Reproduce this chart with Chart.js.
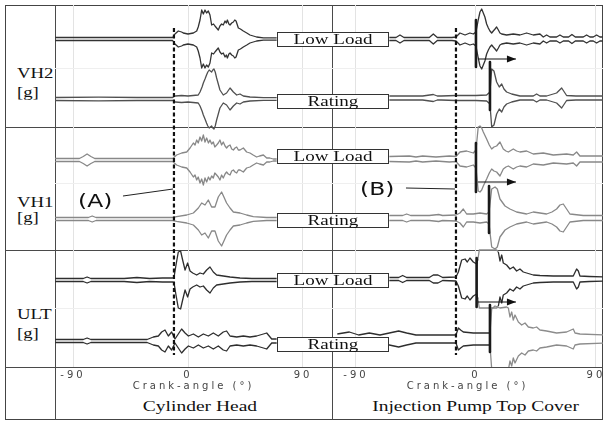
<!DOCTYPE html>
<html>
<head>
<meta charset="utf-8">
<script src="https://cdn.jsdelivr.net/npm/chart.js@4.4.1/dist/chart.umd.min.js"></script>
<style>
  body { margin: 0; background: #fff; }
  #fig { position: relative; width: 606px; height: 423px; overflow: hidden;
         font-family: "Liberation Serif", "Times New Roman", serif; color: #111; }
  .frame { position: absolute; left: 5px; top: 5px; width: 598px; height: 415px;
           border: 1.5px solid #444; box-sizing: border-box; }
  .rule { position: absolute; background: #4a4a4a; }
  .panel { position: absolute; top: 5px; }
  .tag { position: absolute; left: 277px; width: 112px; height: 15px; box-sizing: border-box;
         border: 1.5px solid #333; background: #fff; text-align: center;
         font-size: 15px; line-height: 12px; white-space: nowrap; }
  .tag span { display: inline-block; transform: scaleX(1.27); }
  .lbl { position: absolute; left: 17px; font-size: 15px; line-height: 15px; white-space: nowrap;
         transform: scaleX(1.25); transform-origin: left center; }
  .note { position: absolute; font-family: "DejaVu Sans", sans-serif; font-size: 18px; line-height: 20px;
          transform: scaleX(1.3); transform-origin: left center; }
  .title { position: absolute; top: 399px; font-size: 15px; line-height: 15px; text-align: center; white-space: nowrap; }
  .title span { display: inline-block; transform: scaleX(1.3); }
</style>
</head>
<body>
<div id="fig">
  <div class="frame"></div>
  <div class="rule" style="left:54.5px;top:5px;width:1.5px;height:415px"></div>
  <div class="rule" style="left:331.5px;top:5px;width:1.5px;height:415px"></div>
  <div class="rule" style="left:5px;top:126.5px;width:598px;height:1.5px"></div>
  <div class="rule" style="left:5px;top:249.5px;width:598px;height:1.5px"></div>
  <div class="rule" style="left:5px;top:366.5px;width:598px;height:1.5px"></div>

  <canvas id="head" class="panel" style="left:55px" width="277" height="392"></canvas>
  <canvas id="pump" class="panel" style="left:332px" width="271" height="392"></canvas>

  <div class="tag" style="top:32px"><span>Low Load</span></div>
  <div class="tag" style="top:94px"><span>Rating</span></div>
  <div class="tag" style="top:149px"><span>Low Load</span></div>
  <div class="tag" style="top:213px"><span>Rating</span></div>
  <div class="tag" style="top:273px"><span>Low Load</span></div>
  <div class="tag" style="top:337px"><span>Rating</span></div>

  <div class="lbl" style="top:65.7px">VH2</div>
  <div class="lbl" style="top:84.7px">[g]</div>
  <div class="lbl" style="top:194.5px">VH1</div>
  <div class="lbl" style="top:209.5px">[g]</div>
  <div class="lbl" style="top:306.5px">ULT</div>
  <div class="lbl" style="top:325.5px">[g]</div>

  <div class="note" style="left:78px;top:190.5px">(A)</div>
  <div class="note" style="left:360px;top:178.5px">(B)</div>

  <div class="title" style="left:100px;width:200px"><span>Cylinder Head</span></div>
  <div class="title" style="left:356px;width:240px"><span>Injection Pump Top Cover</span></div>
</div>

<script>
// crank-angle axis
const angleTicks = [-90, 0, 90];
const headRange = [-104.1, 112.7];
const pumpRange = [-108, 95.3];

// ---- Cylinder Head: envelope amplitude vs crank angle ----
const headVH2LowAng = [-104, -60, -12, -10.2, -7.6, -5, -3.7, 0, 4.2, 6.8, 8, 9.4, 10.7, 12, 13.3, 14.5, 15.9, 17.2, 18.5, 20, 21.1, 22.4, 23.7, 25, 26.3, 27.6, 29, 30, 30.8, 32, 32.9, 34.2, 35.5, 36.6, 37.6, 39.4, 41, 43.3, 46, 48.5, 53.7, 59, 69.4];
const headVH2LowAmp = [1.5, 1.5, 1.5, 5, 8, 7, 6, 5, 6, 8, 12, 19, 29, 25, 29, 26, 28, 24, 14, 15, 13, 11, 9, 13, 15, 14, 18, 16, 19, 15, 14, 16, 17, 19, 18, 11, 10, 8, 6, 4, 2, 1.2, 1.2];

const headVH2RatingAng = [-104, -70, -40, -12, -10, -5, 0, 4, 8, 9.4, 11, 12, 13.3, 14.5, 15.5, 16.6, 17.5, 18.5, 19.4, 20.3, 21.3, 22.4, 23.7, 25, 27.6, 30.2, 32.9, 35.5, 38.1, 40.7, 43.3, 48.5, 59, 69.4];
const headVH2RatingAmp = [1.5, 1.8, 1.5, 1.5, 3, 3.5, 3, 3.5, 4, 7, 12, 16, 20, 24, 27, 29, 28, 27, 29, 30, 27, 21, 15, 9, 4, 6, 11, 7, 4, 5, 3, 2, 1.3, 1.3];

const headVH1LowAng = [-104, -85, -82, -79, -76, -73, -40, -12, -8.9, -4.9, -1, 1.6, 4.2, 5.5, 6.8, 8, 9.4, 10.7, 12, 13.3, 14.6, 16, 17.2, 18.5, 19.8, 21, 22.4, 23.7, 25, 26.3, 27.6, 29, 30.2, 31.5, 32.9, 34.2, 35.5, 36.8, 38.1, 39.4, 40.7, 42, 43.3, 45.9, 48.5, 51, 53.7, 56, 59, 61.6, 64, 66.7, 69.4];
const headVH1LowAmp = [1.5, 1.5, 3.5, 6, 3.5, 1.5, 1.5, 1.5, 5, 7, 8, 12, 17, 15, 20, 17, 23, 19, 25, 18, 22, 17, 20, 16, 18, 13, 15, 17, 20, 15, 18, 14, 12, 14, 15, 11, 10, 12, 13, 10, 10, 11, 12, 8, 7, 5, 3, 4, 5, 2, 2, 1, 1];

const headVH1RatingAng = [-104, -78, -75, -72, -40, -12, -8.9, -1, 4.2, 8.1, 10.7, 13.3, 15.9, 18.5, 21.1, 23.7, 26.3, 28.1, 30.2, 32.9, 35.5, 40.7, 45.9, 51.1, 61.6, 69.4];
const headVH1RatingAmp = [1.5, 1.5, 3, 1.5, 1.5, 1.5, 2.3, 4, 6, 11, 16, 14, 19, 12, 12, 22, 27, 22, 16, 11, 7, 6, 4, 2.3, 1.5, 1.5];

const headULTLowAng = [-104, -82, -79, -76, -50, -40, -30, -20, -12, -10.9, -9.4, -7.6, -5.8, -4.2, -2.3, -0.3, 1.6, 3.7, 6.8, 9.4, 12, 14.6, 17.2, 19.8, 22.4, 27.6, 32.9, 40.7, 50, 69.4];
const headULTLowAmp = [1.5, 1.5, 3, 1.5, 1.5, 2.5, 1.5, 2, 2, 3, 15, 28, 29, 20, 10, 17, 9, 7, 5, 7, 6, 10, 13, 8, 5, 4, 3, 2, 1.5, 1.5];

const headULTRatingAng = [-104, -82, -79, -76, -32, -27.1, -23.2, -20.6, -18, -15.4, -12.8, -10.2, -7.6, -5, -2.3, 0.3, 4.2, 8.1, 12, 15.9, 19.8, 23.7, 27.6, 30.2, 32.9, 38.1, 43.3, 48.5, 53.7, 59, 61.6, 65.5, 69.4];
const headULTRatingAmp = [1.5, 1.5, 3, 1.5, 1.5, 4, 5, 9, 11, 5, 9, 2, 7, 12, 8, 5, 7, 4, 7, 5, 8, 5, 9, 10, 5, 4, 5, 4, 5, 7, 8, 2, 2];

// ---- Injection Pump Top Cover ----
const pumpVH2LowAng = [-65, -60, -57, -54, -35, -32, -29, -18, -15, -12, -8.2, -4.5, -2, 0, 1.7, 3, 4.3, 5.5, 6.7, 8, 9.3, 10.5, 11.8, 13, 14.3, 15.5, 16.8, 18, 19.3, 23, 28, 33, 38, 43, 48, 50.5, 53, 55.5, 60.5, 63, 65.5, 69.5, 72, 74.5, 80.5, 83, 85.5, 88, 90.5, 93, 96];
const pumpVH2LowAmp = [1.5, 1.5, 4, 1.5, 1.5, 5, 1.5, 1.5, 2, 6, 4, 6, 5, 7, 19, 27, 30, 26, 22, 15, 11, 8, 6, 8, 10, 12, 9, 6, 5, 4, 5, 4, 6, 4, 5, 2, 4, 2, 2, 4, 2, 2, 4.5, 2, 2, 4, 2, 2, 4, 2, 2];

const pumpVH2RatingAng = [-65, -40, -32, -29, -26, -15, 0, 8, 10.5, 11.8, 13.5, 15.5, 17.5, 19.3, 21, 23, 26.8, 33, 43, 45.5, 48, 53, 60.5, 64.3, 68, 75, 80.5, 96];
const pumpVH2RatingAmp = [2, 2, 3.5, 2, 2, 2.5, 2.5, 3, 6, 29, 27, 16, 11, 14, 9, 6, 4, 2, 2, 4, 2, 2, 5, 10, 2.5, 2, 2, 2];

const pumpVH1LowAng = [-65, -50, -45, -40, -30, -20, -15, -12, -7, -2, 0, 1.7, 3, 4.3, 5.5, 8, 10, 11.8, 13.5, 15.5, 18, 20.5, 22.5, 24.3, 28, 30.5, 33, 38, 43, 50.5, 58, 68, 73, 75.5, 78, 83, 96];
const pumpVH1LowAmp = [2.5, 3, 2, 3, 2, 3, 2.5, 7, 8, 6, 9, 32, 33, 31, 27, 20, 14, 10, 12, 13, 17, 10, 8, 7, 10, 8, 7, 8, 5, 6, 4, 5, 4, 7, 3, 3, 3];

const pumpVH1RatingAng = [-65, -55, -52, -49, -35, -28, -25, -15, -12, -9.5, -7, -2, 3, 8, 9.8, 11.8, 14.3, 16, 18, 21.8, 25.5, 30.5, 38, 43, 53, 57, 60.5, 63, 65.5, 68, 70.5, 80.5, 96];
const pumpVH1RatingAmp = [2.5, 2.5, 4, 2.5, 2.5, 3.5, 2.5, 3, 5, 9, 4, 4, 5, 4, 6, 29, 31, 29, 19, 12, 9, 6, 4, 6, 4, 6, 9, 13, 14, 9, 4, 2.5, 2.5];

const pumpULTLowAng = [-65, -58, -55, -52, -35, -32, -28.5, -25, -15, -13.2, -10.7, -8.2, -6.5, -4.5, -2, 0.5, 1.5, 2.5, 15.5, 16.8, 18, 19.3, 20.5, 23, 25.5, 28, 30.5, 33, 35.5, 38, 43, 48, 58, 73, 75.5, 76.8, 78, 85, 96];
const pumpULTLowAmp = [1.5, 1.5, 3.5, 1.5, 1.5, 4, 4, 1.5, 2, 7, 19, 20, 17, 21, 17, 15, 20, 29, 29, 27, 18, 24, 16, 14, 10, 12, 8, 10, 7, 6, 4, 3.5, 3, 3, 10, 8, 3, 2.5, 2];

const pumpULTRatingAng = [-104, -95, -88, -80, -72, -65, -58, -52, -45, -35, -25, -15, -13.2, -11.5, -9.5, -2, 8, 10.5, 11.8, 14.3, 18, 23, 24.3, 25.5, 26.8, 28, 29.3, 31.8, 34.3, 36.8, 39.3, 43, 45.5, 48, 53, 60.5, 68, 73, 74.3, 78, 96];
const pumpULTRatingAmp = [5, 7, 4, 6, 4, 6, 8, 6, 4, 4, 4, 4, 11, 9, 7, 6, 6, 6, 30, 33, 31, 32, 31, 22, 27, 19, 24, 17, 14, 16, 12, 11, 12, 9, 8, 6, 7, 10, 6, 5, 4];

// ---- annotations (crank angles) ----
const headDashAngle = -11;                       // (A)
const pumpDashAngle = -15;                       // (B)
const pumpBarAngles = [0, 10.5, 0, 9.8, 0.5, 10.5];
const arrowFrom = 1.5, arrowTo = 30;
const headLeader = [-50.9, -11.7];
const pumpLeader = [-52.5, -15.7];

// ---- layout (vertical offsets, px from top of plot) ----
const headBase = [34, 94, 155, 214, 275, 336];
const pumpBase = [34, 93, 154, 213, 274, 334];
const barSpan = [[15, 62], [57, 105], [138, 187], [181, 228], [253, 302], [300, 347]];
const arrowY = [54, 177, 297];
const dashSpan = [23, 350];
const faintRows = [63, 178, 303];
const rowColor = ['#333', '#505050', '#888', '#888', '#2e2e2e', '#2e2e2e'];

Chart.defaults.elements.point.radius = 0;
Chart.defaults.elements.line.tension = 0;
Chart.defaults.elements.line.borderJoinStyle = 'round';

// arrow heads at the end of flagged datasets
const arrowHeads = {
  id: 'arrowHeads',
  afterDatasetsDraw(chart) {
    const ctx = chart.ctx;
    chart.data.datasets.forEach((ds, i) => {
      if (!ds.arrow) return;
      const pts = chart.getDatasetMeta(i).data;
      const tip = pts[pts.length - 1];
      ctx.save();
      ctx.fillStyle = '#111';
      ctx.beginPath();
      ctx.moveTo(tip.x, tip.y);
      ctx.lineTo(tip.x - 9, tip.y - 3.5);
      ctx.lineTo(tip.x - 9, tip.y + 3.5);
      ctx.closePath();
      ctx.fill();
      ctx.restore();
    });
  }
};

// stretched axis lettering like the scanned figure
const wideText = {
  id: 'wideText',
  beforeDraw(chart) { chart.ctx.letterSpacing = '3px'; },
  afterDraw(chart) { chart.ctx.letterSpacing = '0px'; }
};

function line(points, color, width, extra) {
  return Object.assign({ data: points, borderColor: color, borderWidth: width, order: 0 }, extra || {});
}

function buildPanel(id, range, traces, marks) {
  const datasets = [];
  traces.forEach(t => {
    [-1, 1].forEach(sign => {
      const ds = {
        data: t.ang.map((a, k) => ({ x: a, y: t.base + sign * t.amp[k] })),
        borderColor: t.color,
        borderWidth: 1.3,
        order: 1
      };
      if (t.grey) {
        ds.segment = {
          borderColor: c => (c.p0.parsed.x >= t.grey[0] && c.p1.parsed.x <= t.grey[1]) ? '#8c8c8c' : undefined
        };
      }
      datasets.push(ds);
    });
  });
  marks.forEach(m => datasets.push(m));

  return new Chart(document.getElementById(id), {
    type: 'line',
    data: { datasets },
    options: {
      responsive: false,
      animation: false,
      layout: { padding: 0 },
      plugins: { legend: { display: false }, tooltip: { enabled: false } },
      scales: {
        x: {
          type: 'linear',
          min: range[0],
          max: range[1],
          afterBuildTicks: s => { s.ticks = angleTicks.map(v => ({ value: v })); },
          afterFit: s => { s.height = 30; s.paddingLeft = 0; s.paddingRight = 0; },
          grid: { color: '#e3e3e3', drawTicks: false },
          border: { display: false },
          ticks: { padding: 2, color: '#444', font: { family: 'DejaVu Sans', size: 10 }, maxRotation: 0 },
          title: { display: true, text: 'Crank-angle (°)', color: '#444',
                   font: { family: 'DejaVu Sans', size: 10 }, padding: { top: 0, bottom: 5 } }
        },
        y: {
          min: 0,
          max: 362,
          reverse: true,
          afterBuildTicks: s => { s.ticks = faintRows.map(v => ({ value: v })); },
          afterFit: s => { s.width = 0; s.paddingTop = 0; s.paddingBottom = 0; },
          grid: { color: '#efefef', drawTicks: false },
          border: { display: false },
          ticks: { display: false }
        }
      }
    },
    plugins: [arrowHeads, wideText]
  });
}

const headTraces = [
  { ang: headVH2LowAng, amp: headVH2LowAmp },
  { ang: headVH2RatingAng, amp: headVH2RatingAmp },
  { ang: headVH1LowAng, amp: headVH1LowAmp },
  { ang: headVH1RatingAng, amp: headVH1RatingAmp },
  { ang: headULTLowAng, amp: headULTLowAmp },
  { ang: headULTRatingAng, amp: headULTRatingAmp }
].map((t, i) => Object.assign(t, { base: headBase[i], color: rowColor[i] }));

const pumpTraces = [
  { ang: pumpVH2LowAng, amp: pumpVH2LowAmp },
  { ang: pumpVH2RatingAng, amp: pumpVH2RatingAmp },
  { ang: pumpVH1LowAng, amp: pumpVH1LowAmp },
  { ang: pumpVH1RatingAng, amp: pumpVH1RatingAmp },
  { ang: pumpULTLowAng, amp: pumpULTLowAmp, grey: [1.5, 17] },
  { ang: pumpULTRatingAng, amp: pumpULTRatingAmp, grey: [10.5, 100] }
].map((t, i) => Object.assign(t, { base: pumpBase[i], color: rowColor[i] }));

const headMarks = [
  line([{ x: headDashAngle, y: dashSpan[0] }, { x: headDashAngle, y: dashSpan[1] }], '#111', 2.2, { borderDash: [4, 2.5] }),
  line([{ x: headLeader[0], y: 191 }, { x: headLeader[1], y: 184 }], '#222', 1)
];

const pumpMarks = [
  line([{ x: pumpDashAngle, y: dashSpan[0] }, { x: pumpDashAngle, y: dashSpan[1] }], '#111', 2.2, { borderDash: [4, 2.5] }),
  line([{ x: pumpLeader[0], y: 183 }, { x: pumpLeader[1], y: 184 }], '#222', 1)
];
pumpBarAngles.forEach((a, i) => {
  pumpMarks.push(line([{ x: a, y: barSpan[i][0] }, { x: a, y: barSpan[i][1] }], '#1a1a1a', 2.6));
});
arrowY.forEach(y => {
  pumpMarks.push(line([{ x: arrowFrom, y: y }, { x: arrowTo, y: y }], '#111', 1.2, { arrow: true }));
});

buildPanel('head', headRange, headTraces, headMarks);
buildPanel('pump', pumpRange, pumpTraces, pumpMarks);
</script>
</body>
</html>
